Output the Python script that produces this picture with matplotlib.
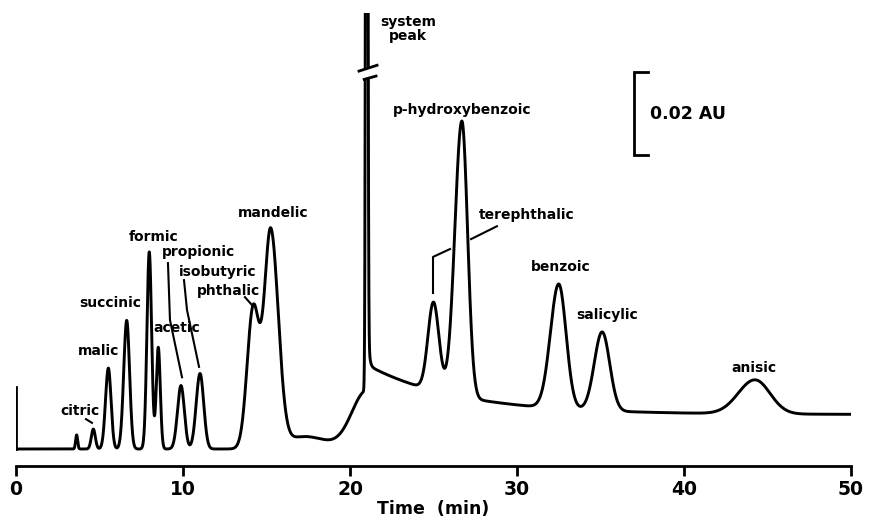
import numpy as np
import matplotlib.pyplot as plt

# peak table: retention time (min), height (mAU),
# left / right width sigma (min)
peak_names = ["", "citric", "malic", "succinic", "formic", "acetic", "propionic",
              "isobutyric", "phthalic", "mandelic", "", "system peak", "terephthalic",
              "p-hydroxybenzoic", "benzoic", "salicylic", "anisic"]
peak_times = [3.63, 4.63, 5.53, 6.63, 7.98, 8.52, 9.88, 11.02, 14.2, 15.25, 17.3,
              21.0, 25.0, 26.7, 32.5, 35.1, 44.25]
peak_heights = [3.4, 4.8, 19.5, 31.0, 47.5, 24.5, 15.3, 18.2, 33.5, 52.0, 3.0,
                400.0, 21.3, 66.5, 30.0, 19.0, 8.2]
sigma_left = [0.06, 0.12, 0.17, 0.18, 0.14, 0.12, 0.21, 0.23, 0.36, 0.38, 1.3,
              0.05, 0.33, 0.42, 0.5, 0.47, 1.0]
sigma_right = [0.06, 0.12, 0.16, 0.17, 0.14, 0.12, 0.2, 0.22, 0.36, 0.45, 1.3,
               0.05, 0.33, 0.34, 0.44, 0.45, 0.9]

# drift around the system peak (mAU): rise before it, raised tailing baseline after it
step_time = 21.0
rise_height, rise_sigma = 14.0, 0.9
step_level = 8.3
tail_amps = [12.0, 33.0]
tail_taus = [5.5, 0.07]

# label anchors (min, mAU)
label_pos = {
    "citric": (3.83, 9.2), "malic": (4.97, 23.6), "succinic": (5.63, 35.2),
    "formic": (8.26, 51.1), "propionic": (10.9, 47.5), "isobutyric": (12.1, 42.7),
    "phthalic": (12.7, 38.1), "acetic": (9.64, 29.2), "mandelic": (15.39, 56.9),
    "p-hydroxybenzoic": (26.7, 81.7), "terephthalic": (30.6, 56.4),
    "benzoic": (32.63, 43.9), "salicylic": (35.39, 32.3), "anisic": (44.19, 19.5),
}
leaders = [
    [(4.19, 7.2), (4.55, 6.3)],
    [(9.1, 44.8), (9.22, 31.1), (9.94, 17.3)],
    [(10.06, 40.7), (10.24, 33.5), (10.96, 19.8)],
    [(13.71, 36.6), (14.13, 34.7)],
    [(24.97, 37.6), (24.97, 46.3), (25.99, 48.2)],
    [(27.25, 50.6), (28.8, 53.7)],
]

t = np.linspace(0, 50, 10000)
y = np.zeros_like(t)
for tr, h, sl, sr in zip(peak_times, peak_heights, sigma_left, sigma_right):
    s = np.where(t < tr, sl, sr)
    y += h * np.exp(-0.5 * ((t - tr) / s) ** 2)
before = t < step_time
y += np.where(before, rise_height * np.exp(-0.5 * ((t - step_time) / rise_sigma) ** 2), 0)
y += np.where(before, 0, step_level)
for a, tau in zip(tail_amps, tail_taus):
    y += np.where(before, 0, a * np.exp(-(t - step_time) / tau))

fig = plt.figure(figsize=(8.71, 5.23), dpi=100)
ax = fig.add_axes([16 / 871, 1 - 466 / 523, 835 / 871, 453 / 523])
ax.plot(t, y, color="black", lw=2.1, solid_joinstyle="round")
ax.plot([0, 0], [0, 15.0], color="black", lw=2.0)

# break in the system peak
sp = peak_times[11]
ax.fill([sp - 0.5, sp + 0.5, sp + 0.5, sp - 0.5], [89.0, 90.1, 92.3, 91.2],
        color="white", zorder=3)
ax.plot([20.54, 21.62], [91.1, 92.5], color="black", lw=2.0, zorder=4)
ax.plot([20.85, 21.56], [89.1, 89.9], color="black", lw=2.0, zorder=4)

font = dict(fontsize=10, fontweight="bold", ha="center", va="center")
for name, (lx, ly) in label_pos.items():
    ax.text(lx, ly, name, **font)
ax.text(21.8, 101.2, "system\npeak", fontsize=10, fontweight="bold", ha="left",
        va="center", multialignment="center", linespacing=1.05)
for seg in leaders:
    xs, ys = zip(*seg)
    ax.plot(xs, ys, color="black", lw=1.5)

# 0.02 AU scale bar
ax.plot([37.84, 37.0, 37.0, 37.84], [90.8, 90.8, 70.8, 70.8], color="black", lw=2.0,
        solid_joinstyle="miter")
ax.text(37.95, 80.8, "0.02 AU", fontsize=12.5, fontweight="bold", ha="left", va="center")

ax.set_xlim(0, 50)
ax.set_ylim(-4.1, 105.1)
for side in ["top", "right", "left"]:
    ax.spines[side].set_visible(False)
ax.spines["bottom"].set_linewidth(2.0)
ax.set_yticks([])
ax.set_xticks([0, 10, 20, 30, 40, 50])
ax.tick_params(axis="x", direction="out", length=7, width=2.0, labelsize=13.5, pad=3)
for lab in ax.get_xticklabels():
    lab.set_fontweight("bold")
ax.set_xlabel("Time  (min)", fontsize=12.5, fontweight="bold", labelpad=1)

plt.savefig("out.png", dpi=100)
